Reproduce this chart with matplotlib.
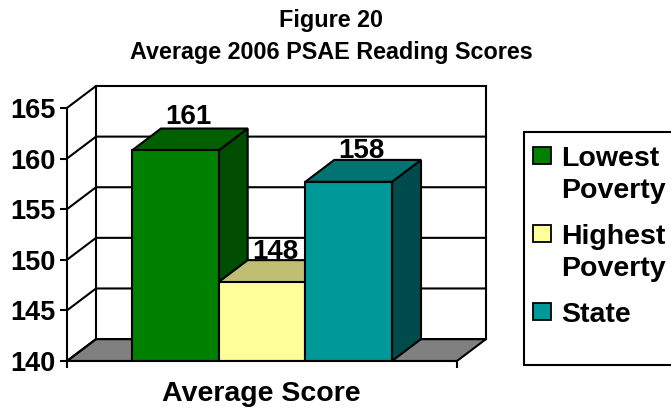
import matplotlib
matplotlib.use("Agg")
import matplotlib.pyplot as plt
from matplotlib.patches import Polygon, Rectangle
from matplotlib.transforms import Affine2D

plt.rcParams["font.family"] = ["Liberation Sans", "DejaVu Sans"]
plt.rcParams["font.weight"] = "bold"

# data
names = ["Lowest\nPoverty", "Highest\nPoverty", "State"]
scores = [160.8, 147.8, 157.7]
labels = ["161", "148", "158"]
yticks = [140, 145, 150, 155, 160, 165]

# colours
front = ["#008000", "#FFFF99", "#009999"]
top = ["#006000", "#BFBF73", "#007373"]
side = ["#004C00", "#80804D", "#004C4C"]

LW = 1.5
W, H = 671, 409
DX = 0.335  # depth in bar widths
DY = 2.165  # depth in score units

fig = plt.figure(figsize=(W / 100, H / 100), dpi=100)
ax = fig.add_axes([67 / W, (H - 361) / H, 419 / W, 275 / H])
ax.set_xlim(-1.25, 3.25 + DX)
ax.set_ylim(140, 165 + DY)
ax.patch.set_visible(False)

x0, x1 = -1.25, 3.25

# floor
ax.add_patch(Polygon([(x0, 140), (x1, 140), (x1 + DX, 140 + DY), (x0 + DX, 140 + DY)],
                     fc="#808080", ec="black", lw=LW, zorder=1))

# walls and gridlines
for t in yticks:
    ax.plot([x0, x0 + DX, x1 + DX], [t, t + DY, t + DY], color="black", lw=LW,
            zorder=1.5, clip_on=False, solid_joinstyle="miter")
ax.plot([x0 + DX, x0 + DX], [140 + DY, 165 + DY], color="black", lw=LW, zorder=1.5, clip_on=False)
ax.plot([x1 + DX, x1 + DX], [140 + DY, 165 + DY], color="black", lw=LW, zorder=1.5, clip_on=False)

# bars, drawn left to right so the nearer faces cover the earlier ones
label_gap = [0.4, 0.1, 0.2]
for i, v in enumerate(scores):
    z = 2 + i
    l, r = i - 0.5, i + 0.5
    ax.add_patch(Polygon([(r, 140), (r + DX, 140 + DY), (r + DX, v + DY), (r, v)],
                         fc=side[i], ec="black", lw=LW, zorder=z))
    ax.add_patch(Polygon([(l, v), (r, v), (r + DX, v + DY), (l + DX, v + DY)],
                         fc=top[i], ec="black", lw=LW, zorder=z))
    ax.bar(i, v - 140, bottom=140, width=1, color=front[i], edgecolor="black", lw=LW, zorder=z)
    ax.text(i + DX / 2 - 0.015, v + DY + label_gap[i], labels[i], ha="center", va="baseline", fontsize=20,
            fontweight="bold", zorder=6)

# axes
for s in ["top", "right"]:
    ax.spines[s].set_visible(False)
ax.spines["left"].set_bounds(140, 165)
ax.spines["bottom"].set_bounds(x0, x1)
ax.spines["left"].set_linewidth(LW)
ax.spines["bottom"].set_linewidth(LW)
ax.spines["left"].set_zorder(7)
ax.spines["bottom"].set_zorder(7)
ax.set_yticks(yticks)
ax.set_yticklabels([str(t) for t in yticks])
ax.tick_params(axis="y", length=5, width=LW, labelsize=19.5, pad=3.5)
ax.set_xticks([x0, x1])
ax.set_xticklabels(["", ""])
ax.tick_params(axis="x", length=5, width=LW)

# title and axis label
fig.text(331 / W, 1 - 20 / H, "Figure 20", ha="center", va="center", fontsize=16.8, fontweight="bold")
fig.text(331 / W, 1 - 53 / H, "Average 2006 PSAE Reading Scores", ha="center", va="center",
         fontsize=16.8, fontweight="bold")
fig.text(261 / W, 1 - 394 / H, "Average Score", ha="center", va="center", fontsize=20.5, fontweight="bold")

# legend, in pixels from the top left; the box runs off the right edge
px = Affine2D().scale(1, -1).translate(0, H)
fig.add_artist(Rectangle((524, 132), 160, 233, fc="white", ec="black", lw=LW, transform=px))
swatch_y = [147, 225, 303]
text_y = [175, 253, 315]
for i, name in enumerate(names):
    fig.add_artist(Rectangle((533, swatch_y[i]), 18, 17, fc=front[i], ec="black", lw=1.3, transform=px))
    fig.text(561, H - text_y[i], name, transform=None, ha="left", va="center",
             fontsize=20.5, fontweight="bold", linespacing=1.3)

fig.savefig("out.png", dpi=100)
